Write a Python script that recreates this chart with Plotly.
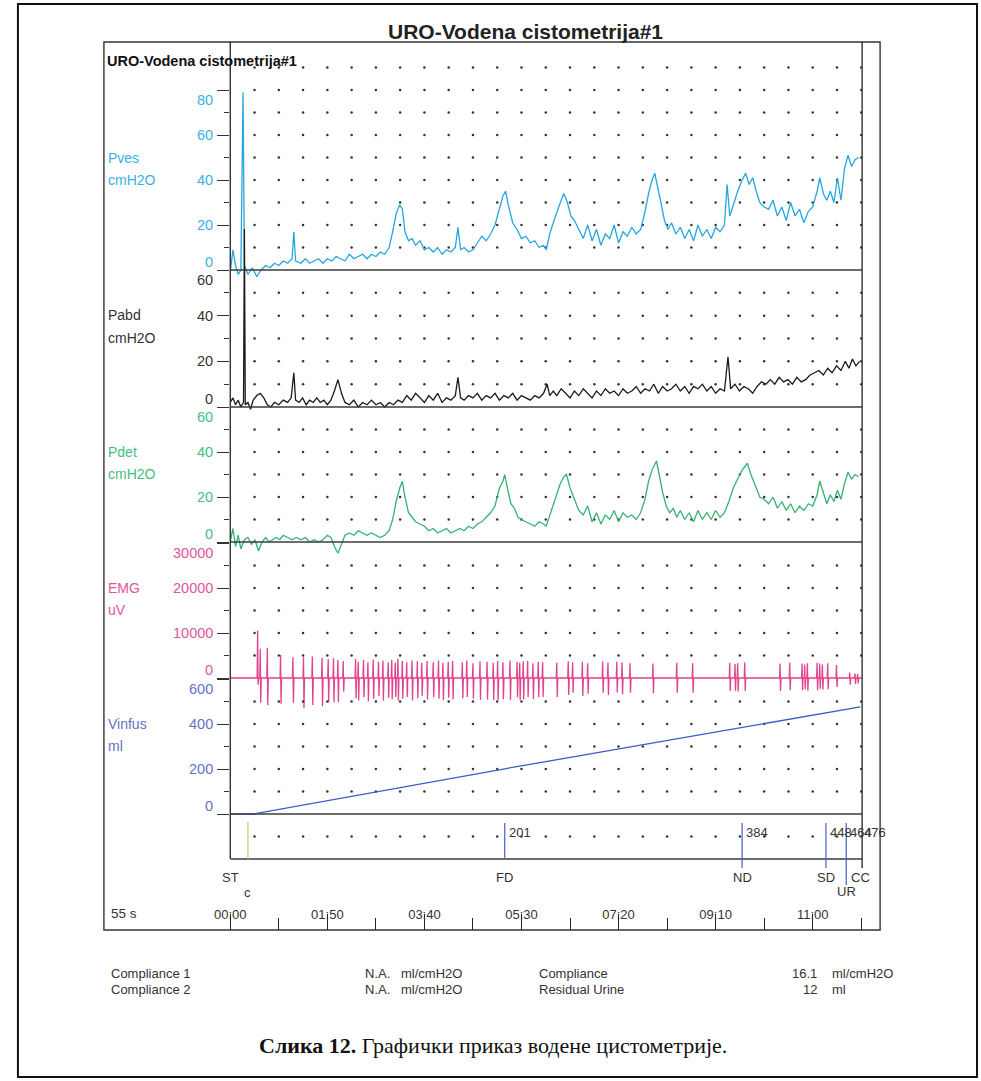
import numpy as np
import plotly.graph_objects as go

W, H = 981, 1081

# ---------------- channel samples (time in s, value) ----------------
pves_t = [0, 3, 6, 9, 12, 14.5, 16, 20, 25, 30,
          35, 40, 45, 50, 55, 60, 65, 70, 72, 74,
          80, 85, 90, 95, 100, 105, 110, 115, 120, 125,
          130, 135, 140, 145, 150, 155, 160, 165, 170, 175,
          180, 184, 188, 192, 195, 198, 202, 206, 210, 215,
          220, 225, 230, 235, 240, 245, 250, 255, 258, 261,
          265, 270, 275, 280, 285, 290, 295, 300, 305, 309,
          312, 315, 320, 325, 330, 335, 340, 345, 350, 355,
          358, 362, 366, 370, 374, 378, 382, 386, 390, 395,
          400, 405, 410, 415, 420, 425, 430, 435, 440, 445,
          450, 455, 460, 465, 470, 474, 478, 481, 484, 488,
          492, 496, 500, 505, 510, 515, 520, 525, 530, 535,
          540, 545, 550, 555, 560, 563, 566, 570, 575, 580,
          584, 588, 592, 596, 600, 605, 610, 615, 620, 625,
          630, 635, 640, 645, 650, 655, 660, 665, 668, 672,
          676, 680, 684, 688, 692, 696, 700, 704, 708, 712]
pves_v = [-1, 9, 2, -2, 0, 79, 2, -2, 1, -3,
          0, 2, 1, 3, 2, 4, 3, 5, 17, 4,
          3, 5, 3, 4, 5, 3, 5, 4, 6, 5,
          4, 7, 5, 6, 7, 5, 7, 6, 8, 7,
          10, 17, 25, 29, 27, 17, 13, 14, 11, 13,
          9, 10, 8, 10, 7, 9, 8, 10, 19, 9,
          10, 8, 9, 12, 15, 13, 16, 20, 27, 33,
          35, 29, 21, 18, 14, 15, 12, 13, 10, 11,
          9, 16, 21, 26, 30, 34, 30, 24, 22, 18,
          14, 20, 13, 18, 11, 16, 14, 20, 12, 17,
          15, 19, 16, 18, 26, 34, 40, 43, 38, 30,
          22, 18, 21, 16, 19, 14, 18, 13, 20, 15,
          18, 14, 19, 17, 20, 38, 24, 29, 35, 40,
          43, 38, 41, 35, 30, 28, 27, 31, 24, 28,
          22, 30, 24, 27, 21, 26, 28, 35, 41, 34,
          31, 35, 30, 41, 31, 45, 51, 46, 49, 50]

pabd_t = [0, 3, 6, 9, 12, 15, 16, 17, 20, 23,
          26, 30, 34, 38, 42, 46, 50, 55, 60, 65,
          69, 72, 74, 78, 82, 86, 90, 94, 98, 102,
          106, 110, 114, 118, 122, 126, 130, 135, 140, 145,
          150, 155, 160, 165, 170, 175, 180, 185, 190, 195,
          200, 205, 210, 215, 220, 225, 230, 235, 240, 245,
          250, 255, 258, 261, 265, 270, 275, 280, 285, 290,
          295, 300, 305, 310, 315, 320, 325, 330, 335, 340,
          345, 350, 355, 359, 362, 366, 370, 375, 380, 385,
          390, 395, 400, 405, 410, 415, 420, 425, 430, 435,
          440, 445, 450, 455, 460, 465, 470, 475, 480, 485,
          490, 495, 500, 505, 510, 515, 520, 525, 530, 535,
          540, 545, 550, 555, 560, 564, 567, 572, 577, 582,
          587, 592, 597, 602, 607, 612, 617, 622, 627, 632,
          637, 642, 647, 652, 657, 662, 667, 672, 677, 682,
          687, 692, 697, 701, 705, 709, 713]
pabd_v = [2, 4, 1, 3, 0, 2, 78, 1, 2, -1,
          3, 5, 6, 4, 1, 0, 2, 1, 3, 2,
          4, 15, 3, 2, 4, 1, 3, 2, 4, 2,
          3, 1, 3, 7, 12, 6, 2, 1, 3, 0,
          2, 1, 3, 1, 2, 0, 2, 1, 3, 2,
          5, 3, 6, 4, 2, 5, 3, 6, 2, 4,
          3, 5, 13, 4, 3, 5, 4, 6, 3, 5,
          4, 6, 3, 5, 4, 6, 3, 5, 4, 3,
          5, 4, 6, 10, 5, 7, 5, 8, 6, 4,
          7, 5, 8, 6, 4, 7, 5, 8, 6, 7,
          5, 8, 6, 7, 9, 6, 8, 7, 10, 6,
          9, 7, 8, 10, 7, 9, 6, 9, 8, 10,
          7, 9, 6, 8, 7, 22, 8, 10, 7, 9,
          8, 6, 9, 11, 10, 12, 10, 13, 11, 12,
          10, 13, 11, 12, 14, 15, 16, 14, 17, 15,
          18, 16, 20, 17, 21, 18, 20]

pdet_t = [0, 3, 6, 9, 12, 16, 20, 24, 28, 32,
          36, 40, 44, 48, 52, 56, 60, 65, 70, 75,
          80, 85, 90, 95, 100, 105, 110, 114, 118, 122,
          126, 130, 135, 140, 145, 150, 155, 160, 165, 170,
          175, 180, 184, 188, 192, 195, 198, 202, 206, 210,
          215, 220, 225, 230, 235, 240, 245, 250, 255, 260,
          265, 270, 275, 280, 285, 290, 295, 300, 305, 309,
          311, 314, 318, 322, 326, 330, 335, 340, 345, 350,
          355, 358, 362, 366, 370, 374, 378, 381, 385, 390,
          395, 400, 405, 410, 415, 420, 425, 430, 435, 440,
          445, 450, 455, 460, 465, 470, 474, 478, 483, 486,
          490, 494, 498, 502, 506, 510, 515, 520, 525, 530,
          535, 540, 545, 550, 555, 560, 565, 570, 575, 580,
          586, 590, 595, 600, 605, 610, 615, 620, 625, 630,
          635, 640, 645, 650, 655, 660, 665, 668, 672, 676,
          680, 684, 688, 692, 696, 700, 704, 708, 712]
pdet_v = [0, 6, -2, 3, -3, 1, 2, -1, 1, -4,
          0, 2, 0, 1, 2, 1, 3, 2, 1, 2,
          1, 2, 0, 1, 0, 1, 3, 2, -2, -5,
          -1, 3, 4, 3, 5, 4, 3, 4, 3, 2,
          3, 5, 10, 18, 24, 27, 20, 13, 11, 9,
          8, 7, 5, 6, 4, 5, 6, 4, 5, 6,
          5, 7, 6, 8, 9, 11, 13, 16, 24, 27,
          30, 24, 17, 15, 11, 10, 9, 8, 7, 9,
          8, 7, 12, 17, 21, 26, 29, 30, 24, 19,
          14, 12, 16, 9, 13, 8, 12, 10, 14, 9,
          13, 11, 12, 10, 13, 19, 27, 32, 36, 30,
          22, 16, 13, 15, 11, 14, 10, 13, 9, 14,
          10, 13, 10, 14, 11, 13, 18, 24, 28, 32,
          35, 30, 25, 20, 19, 17, 20, 15, 18, 14,
          17, 13, 16, 14, 17, 16, 21, 27, 22, 17,
          21, 18, 23, 19, 26, 31, 28, 30, 29]

# EMG bursts: time (s), positive and negative excursion (uV)
emg_t = [31, 34, 42, 57, 71, 83, 93, 104, 111, 117,
         122, 128, 142, 145, 151, 156, 162, 168, 173, 179,
         183, 187, 190, 195, 200, 206, 212, 217, 223, 230,
         236, 241, 247, 252, 263, 268, 275, 283, 291, 298,
         303, 309, 317, 325, 328, 332, 337, 343, 349, 354,
         370, 383, 388, 399, 405, 422, 428, 438, 444, 453,
         479, 506, 524, 566, 572, 575, 583, 623, 634, 648,
         651, 654, 665, 668, 671, 677, 687, 702, 708, 711]
emg_up = [10500, 6500, 6700, 5100, 4600, 4600, 4800, 4500, 4200, 4400,
          4000, 3800, 4200, 3600, 4000, 3500, 4100, 3600, 3900, 3500,
          4000, 3400, 4300, 3800, 3500, 3900, 3700, 3400, 3800, 3500,
          3900, 3400, 3600, 3800, 3500, 3900, 3300, 3700, 3600, 3400,
          3800, 3500, 3900, 3600, 3400, 3700, 3800, 3300, 3600, 3500,
          3400, 3700, 3500, 3600, 3300, 3700, 3400, 3600, 3500, 3300,
          3200, 3400, 3300, 3400, 3100, 3300, 3500, 3200, 3400, 3200,
          3000, 3300, 3400, 3200, 3000, 3300, 2900, 1200, 1000, 900]
emg_dn = [-1500, -5500, -6000, -5700, -5500, -6700, -6000, -6300, -5400, -5400,
          -5400, -3000, -4500, -5000, -4200, -5200, -4600, -4000, -5000, -4400,
          -4800, -4200, -5000, -4600, -4200, -5000, -4500, -4000, -4800, -4300,
          -4600, -4900, -4400, -4800, -4500, -4200, -4600, -4900, -4800, -4900,
          -4900, -4700, -4900, -4300, -4900, -4800, -4200, -4700, -4300, -4200,
          -4200, -3800, -3300, -4000, -3500, -3300, -3800, -3200, -3600, -3300,
          -3400, -3300, -3300, -2900, -2800, -3000, -2900, -2900, -2700, -2700,
          -2500, -2800, -2700, -2400, -2600, -2500, -2000, -1500, -1300, -1200]

# infused volume (ml)
vinf_t = [0, 26, 311, 580, 675, 698, 714]
vinf_v = [0, 0, 201, 384, 448, 464, 476]

# event markers
event_names = ["ST", "c", "FD", "ND", "SD", "UR", "CC"]
event_times = [0, 20, 311, 580, 675, 698, 714]

# time axis
time_ticks = [0, 110, 220, 330, 440, 550, 660]
time_labels = ["00:00", "01:50", "03:40", "05:30", "07:20", "09:10", "11:00"]
time_minor = [55, 165, 275, 385, 495, 605, 715]

# compliance summary
summary_left = ["Compliance 1", "Compliance 2"]
summary_left_val = ["N.A.", "N.A."]
summary_left_unit = ["ml/cmH2O", "ml/cmH2O"]
summary_right = ["Compliance", "Residual Urine"]
summary_right_val = ["16.1", "12"]
summary_right_unit = ["ml/cmH2O", "ml"]

FONT = "Liberation Sans, Arial, sans-serif"
T_MAX = 716
PLOT_TOP, PLOT_BOT = 42, 860
X_LEFT, X_RIGHT = 229.5, 862

# page placement of the drawing area (horizontal offset / usable width)
PAGE_X0, PAGE_W = 15.0, 966.0


def px(x):
    return (x - PAGE_X0) / PAGE_W


def py(y):
    return 1 - y / H


channels = [
    dict(name="Pves", unit="cmH2O", t=pves_t, v=pves_v, color="#27a6de", lab="#3cb0e2",
         zero=270, scale=2.25, major=[0, 20, 40, 60, 80], minor=[10, 30, 50, 70],
         grid=[10, 20, 30, 40, 50, 60, 70, 80, 90], name_y=158, unit_y=180),
    dict(name="Pabd", unit="cmH2O", t=pabd_t, v=pabd_v, color="#1a1a1a", lab="#333333",
         zero=407, scale=2.283, major=[0, 20, 40, 60], minor=[10, 30, 50],
         grid=[10, 20, 30, 40, 50], name_y=315, unit_y=338),
    dict(name="Pdet", unit="cmH2O", t=pdet_t, v=pdet_v, color="#35b274", lab="#45bd86",
         zero=542, scale=2.25, major=[0, 20, 40, 60], minor=[10, 30, 50],
         grid=[10, 20, 30, 40, 50], name_y=452, unit_y=474),
    dict(name="EMG", unit="uV", t=None, v=None, color="#e0428e", lab="#e0559c",
         zero=678, scale=0.0045, major=[0, 10000, 20000, 30000], minor=[5000, 15000, 25000],
         grid=[5000, 10000, 15000, 20000, 25000], name_y=588, unit_y=610),
    dict(name="Vinfus", unit="ml", t=vinf_t, v=vinf_v, color="#3d5cc4", lab="#6472c4",
         zero=814, scale=0.225, major=[0, 200, 400, 600], minor=[100, 300, 500],
         grid=[100, 200, 300, 400, 500, -100], name_y=724, unit_y=746),
]

# EMG polyline built from the burst list
emg_x, emg_y = [0.0], [0.0]
for t, up, dn in zip(emg_t, emg_up, emg_dn):
    emg_x += [t - 0.6, t, t + 0.5, t + 1.1]
    emg_y += [0, up, dn, 0]
emg_x.append(T_MAX)
emg_y.append(0)
channels[3]["t"], channels[3]["v"] = emg_x, emg_y

fig = go.Figure()
layout = dict(
    width=W, height=H, autosize=False,
    margin=dict(l=0, r=0, t=0, b=0),
    paper_bgcolor="white", plot_bgcolor="rgba(0,0,0,0)",
    showlegend=False,
    font=dict(family=FONT, size=13, color="#333"),
    xaxis=dict(domain=[px(X_LEFT), px(X_RIGHT)], range=[0, T_MAX], anchor="free",
               position=py(930), side="top", showgrid=False, zeroline=False, showline=False,
               ticks="outside", ticklen=16, tickwidth=1.3, tickcolor="#222",
               tickmode="array", tickvals=time_ticks, ticktext=time_labels,
               ticklabelstandoff=-10,
               tickfont=dict(size=13, color="#333", family=FONT),
               minor=dict(tickmode="array", tickvals=time_minor, ticks="outside",
                          ticklen=12, tickwidth=1.3, tickcolor="#222"),
               fixedrange=True),
)

dot_cols = [27.5 * k for k in range(1, 27)]
annotations = []
shapes = []

for i, ch in enumerate(channels):
    ax_id = "y" if i == 0 else f"y{i + 1}"
    ax_key = "yaxis" if i == 0 else f"yaxis{i + 1}"
    rng = [(ch["zero"] - PLOT_BOT) / ch["scale"], (ch["zero"] - PLOT_TOP) / ch["scale"]]
    ax = dict(range=rng, anchor="x", showgrid=False, zeroline=False, showline=False,
              showticklabels=False, ticks="outside", ticklen=12, tickwidth=1.3,
              tickcolor="#333", tickmode="array", tickvals=ch["major"],
              minor=dict(tickmode="array", tickvals=ch["minor"], ticks="outside",
                         ticklen=5, tickwidth=1.3, tickcolor="#333"),
              fixedrange=True)
    if i == 0:
        ax["domain"] = [py(PLOT_BOT), py(PLOT_TOP)]
    else:
        ax["overlaying"] = "y"
    layout[ax_key] = ax

    # dotted grid of the panel
    gx, gy = np.meshgrid(dot_cols, ch["grid"])
    fig.add_trace(go.Scatter(x=gx.ravel(), y=gy.ravel(), yaxis=ax_id, mode="markers",
                             marker=dict(size=2.5, color="#333"), hoverinfo="skip"))

    # tick labels
    top = max(ch["major"])
    for v in ch["major"]:
        shift = -10 if v == top else (8 if v == 0 else 0)
        annotations.append(dict(x=px(214), xref="paper", xanchor="right", y=v, yref=ax_id,
                                yanchor="middle", yshift=shift, showarrow=False,
                                text=str(v),
                                font=dict(size=14.5, color=ch["lab"], family=FONT)))
    # channel name and unit
    for txt, yy in ((ch["name"], ch["name_y"]), (ch["unit"], ch["unit_y"])):
        annotations.append(dict(x=px(105), xref="paper", xanchor="left", y=py(yy), yref="paper",
                                yanchor="middle", showarrow=False, text=txt,
                                font=dict(size=14, color=ch["lab"], family=FONT)))

# channel traces (drawn above the grid)
for i, ch in enumerate(channels):
    ax_id = "y" if i == 0 else f"y{i + 1}"
    fig.add_trace(go.Scatter(x=ch["t"], y=ch["v"], yaxis=ax_id, mode="lines",
                             line=dict(color=ch["color"], width=1.3), hoverinfo="skip"))

# panel baselines
for ax_id, val in (("y", 0), ("y2", 0), ("y3", 0), ("y5", 0), ("y5", -200)):
    shapes.append(dict(type="line", xref="x", x0=0, x1=T_MAX, yref=ax_id, y0=val, y1=val,
                       line=dict(color="#3c3c3c", width=1.3)))

# frames
line_c = "#333"
shapes += [
    dict(type="rect", xref="paper", yref="paper", x0=0.002, x1=px(977), y0=py(4), y1=py(1077),
         line=dict(color="#111", width=2)),
    dict(type="rect", xref="paper", yref="paper", x0=px(103), x1=px(880), y0=py(42), y1=py(930),
         line=dict(color=line_c, width=1.4)),
    dict(type="line", xref="paper", yref="paper", x0=px(X_LEFT), x1=px(X_LEFT),
         y0=py(42), y1=py(859), line=dict(color=line_c, width=1.4)),
    dict(type="line", xref="paper", yref="paper", x0=px(X_RIGHT), x1=px(X_RIGHT),
         y0=py(42), y1=py(868), line=dict(color=line_c, width=1.4)),
]

# event markers
low_label = {"c": 892, "UR": 891}
line_bottom = {"FD": 859, "ND": 868, "SD": 868, "UR": 885}
for name, t in zip(event_names, event_times):
    if name == "c":
        shapes.append(dict(type="line", xref="x", x0=t, x1=t, yref="paper", y0=py(822), y1=py(859),
                           line=dict(color="#c9c46a", width=1.2)))
    elif name in line_bottom:
        shapes.append(dict(type="line", xref="x", x0=t, x1=t, yref="paper", y0=py(823),
                           y1=py(line_bottom[name]), line=dict(color="#4a5ec8", width=1.2)))
    annotations.append(dict(x=t, xref="x", xanchor="center", y=py(low_label.get(name, 877)),
                            yref="paper", yanchor="middle", showarrow=False, text=name,
                            font=dict(size=13, color="#333", family=FONT)))
    if name in ("FD", "ND", "SD", "UR", "CC"):
        vol = vinf_v[vinf_t.index(t)]
        annotations.append(dict(x=t, xref="x", xanchor="left", xshift=2, y=py(832), yref="paper",
                                yanchor="middle", showarrow=False, text=str(vol),
                                font=dict(size=13, color="#333", family=FONT)))

# headings and notes
annotations += [
    dict(x=px(525), y=py(32), xref="paper", yref="paper", xanchor="center", yanchor="middle",
         showarrow=False, text="<b>URO-Vodena cistometrija#1</b>",
         font=dict(size=21, color="#222", family=FONT)),
    dict(x=px(104), y=py(61), xref="paper", yref="paper", xanchor="left", yanchor="middle",
         showarrow=False, text="<b>URO-Vodena cistometrija#1</b>",
         font=dict(size=14.5, color="#111", family=FONT)),
    dict(x=px(108), y=py(913), xref="paper", yref="paper", xanchor="left", yanchor="middle",
         showarrow=False, text="55 s", font=dict(size=13.5, color="#333", family=FONT)),
    dict(x=px(492), y=py(1045), xref="paper", yref="paper", xanchor="center", yanchor="middle",
         showarrow=False,
         text="<b>Слика 12.</b> Графички приказ водене цистометрије.",
         font=dict(size=22, color="#111", family="Liberation Serif, Times New Roman, serif")),
]
for row, yy in enumerate((973, 989)):
    cells = [
        (108, "left", summary_left[row]),
        (362, "left", summary_left_val[row]),
        (398, "left", summary_left_unit[row]),
        (537, "left", summary_right[row]),
        (819, "right", summary_right_val[row]),
        (830, "left", summary_right_unit[row]),
    ]
    for xx, anc, txt in cells:
        annotations.append(dict(x=px(xx), y=py(yy), xref="paper", yref="paper", xanchor=anc,
                                yanchor="middle", showarrow=False, text=txt,
                                font=dict(size=13, color="#333", family=FONT)))

layout["annotations"] = annotations
layout["shapes"] = shapes
fig.update_layout(**layout)
fig.write_html("out.html", config={"displayModeBar": False})
